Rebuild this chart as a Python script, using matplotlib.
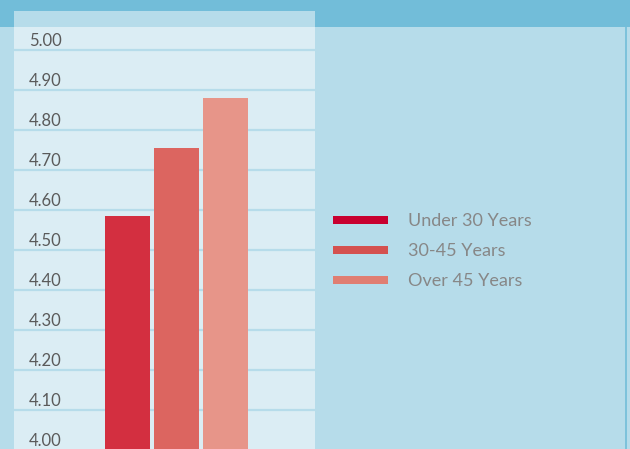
import matplotlib.pyplot as plt
from matplotlib.patches import Rectangle
from matplotlib.transforms import blended_transform_factory

plt.rcParams['font.family'] = ['Lato', 'DejaVu Sans']

# 数据
groups = ['Under 30 Years', '30-45 Years', 'Over 45 Years']
scores = [4.585, 4.755, 4.88]
ticks = [4.00, 4.10, 4.20, 4.30, 4.40, 4.50, 4.60, 4.70, 4.80, 4.90, 5.00]
tick_labels = ['4.00', '4.10', '4.20', '4.30', '4.40', '4.50', '4.60', '4.70', '4.80', '4.90', '5.00']

# 颜色
bg_color = '#b6dcea'
band_color = '#72bdd9'
panel_color = '#dbedf4'
bar_colors = ['#d32f40', '#dc6560', '#e79589']
legend_colors = ['#c8002f', '#d4514f', '#e07e72']

W, H = 630, 449
fig = plt.figure(figsize=(W / 100, H / 100), dpi=100, facecolor=bg_color)

# 顶部色带
fig.patches.append(Rectangle((0, 1 - 27 / H), 1, 27 / H, transform=fig.transFigure,
                             facecolor=band_color, edgecolor='none', zorder=0))
# 图表面板的标题条
fig.patches.append(Rectangle((14 / W, 1 - 27 / H), 301 / W, 16 / H, transform=fig.transFigure,
                             facecolor=bg_color, edgecolor='none', zorder=1))
# 右侧竖线
fig.lines.append(plt.Line2D([626 / W, 626 / W], [0, 1 - 27 / H], transform=fig.transFigure,
                            color=band_color, linewidth=1.2))

ax = fig.add_axes([14 / W, 0, 301 / W, 422 / H])
ax.set_facecolor(panel_color)
x = range(len(groups))
ax.bar(x, scores, width=45 / 49, bottom=0, color=bar_colors, zorder=3)
ax.set_xlim(-113.5 / 49, (301 - 113.5) / 49)
ax.set_ylim(4.0025, 5.0575)

# 网格线和刻度文字
tr = blended_transform_factory(ax.transAxes, ax.transData)
for v, lab in zip(ticks, tick_labels):
    ax.axhline(v, color=bg_color, linewidth=1.6, zorder=2)
    ax.text(15 / 301, v + 9.5 / 400, lab, transform=tr, ha='left', va='center',
            fontsize=12, color='#5a5a5a', zorder=4)

ax.set_xticks([])
ax.set_yticks([])
for s in ax.spines.values():
    s.set_visible(False)

# 图例
for i, (lab, c) in enumerate(zip(groups, legend_colors)):
    yc = 1 - (220 + 30 * i) / H
    fig.patches.append(Rectangle((333 / W, yc - 4 / H), 55 / W, 8 / H, transform=fig.transFigure,
                                 facecolor=c, edgecolor='none'))
    fig.text(408 / W, yc - 1.5 / H, lab, ha='left', va='center', fontsize=13, color='#878787')

plt.savefig('out.png', dpi=100, facecolor=bg_color)
